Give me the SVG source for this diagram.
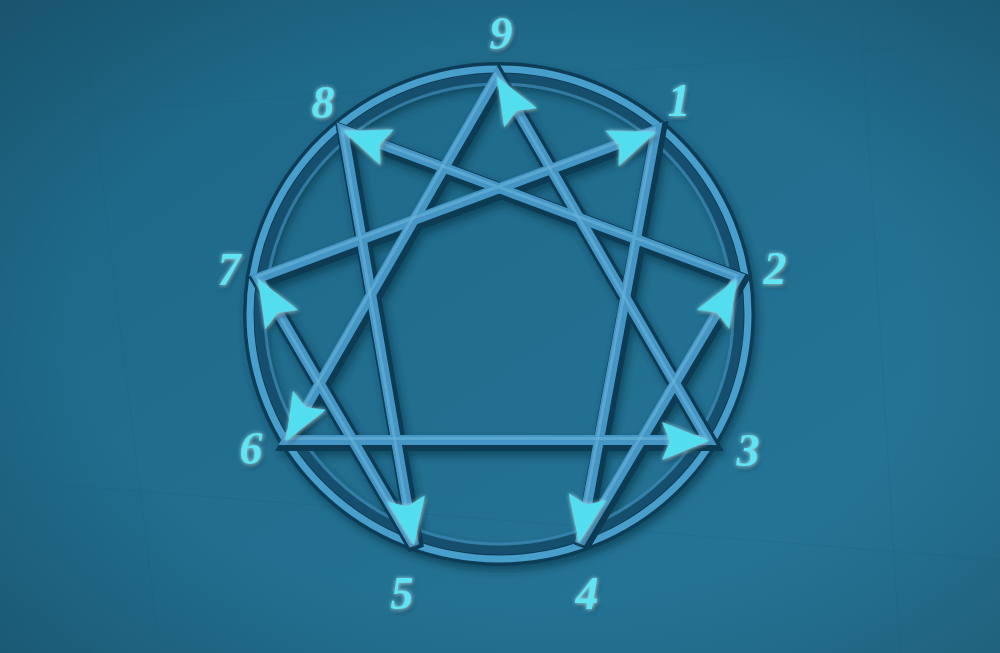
<svg xmlns="http://www.w3.org/2000/svg" xmlns:xlink="http://www.w3.org/1999/xlink" width="1000" height="653" viewBox="0 0 1000 653">
  <defs>
    <linearGradient id="bg" x1="0" y1="0" x2="1" y2="1">
      <stop offset="0" stop-color="#1d6685"/>
      <stop offset="0.5" stop-color="#216e8f"/>
      <stop offset="1" stop-color="#27789a"/>
    </linearGradient>
    <radialGradient id="vig" cx="0.5" cy="0.5" r="0.7">
      <stop offset="0.6" stop-color="#000" stop-opacity="0"/>
      <stop offset="1" stop-color="#000" stop-opacity="0.18"/>
    </radialGradient>
    <filter id="shadow" x="-10%" y="-10%" width="120%" height="120%">
      <feGaussianBlur in="SourceAlpha" stdDeviation="4"/>
      <feOffset dx="3" dy="5" result="b"/>
      <feFlood flood-color="#062a3a" flood-opacity="0.55"/>
      <feComposite in2="b" operator="in" result="s"/>
      <feMerge><feMergeNode in="s"/><feMergeNode in="SourceGraphic"/></feMerge>
    </filter>
    <filter id="glow" x="-30%" y="-30%" width="160%" height="160%">
      <feGaussianBlur in="SourceAlpha" stdDeviation="2.2" result="b"/>
      <feFlood flood-color="#c4f8ff" flood-opacity="0.75"/>
      <feComposite in2="b" operator="in" result="g"/>
      <feGaussianBlur in="SourceAlpha" stdDeviation="2" result="b2"/>
      <feOffset in="b2" dx="2" dy="3" result="o"/>
      <feFlood flood-color="#052838" flood-opacity="0.6"/>
      <feComposite in2="o" operator="in" result="d"/>
      <feMerge><feMergeNode in="d"/><feMergeNode in="g"/><feMergeNode in="SourceGraphic"/></feMerge>
    </filter>
    <path id="ah" d="M0,0 L-47,-19 L-39,0 L-47,19 Z"/>
    <style>
      .lnShadow { stroke: #0d3a52; stroke-width: 16; stroke-linecap: butt; fill: none; }
      .ln { stroke: #4596c4; stroke-width: 10; stroke-linecap: butt; fill: none; }
      .lnHi { stroke: #6cb8de; stroke-width: 3; fill: none; opacity: 0.55; }
      .arrow { fill: #52def0; }
      .num { font-family: "Liberation Serif", "DejaVu Serif", serif; font-style: italic; font-weight: bold; font-size: 46px; fill: #5ee4f4; text-anchor: middle; }
    </style>
  </defs>

  <rect x="0" y="0" width="1000" height="653" fill="url(#bg)"/>
  <rect x="0" y="0" width="1000" height="653" fill="url(#vig)"/>
  <g stroke="#185a78" stroke-width="1" opacity="0.2" fill="none">
    <path d="M0,120 L1000,40"/>
    <path d="M80,0 L160,653"/>
    <path d="M0,480 L1000,560"/>
    <path d="M860,0 L900,653"/>
  </g>

  <g id="figure" filter="url(#shadow)">
    <g id="ring">
      <ellipse cx="499" cy="314" rx="247" ry="243" fill="none" stroke="#0f3e56" stroke-width="18"/>
      <ellipse cx="499" cy="314" rx="249" ry="245" fill="none" stroke="#4a9fcc" stroke-width="7"/>
      <ellipse cx="499" cy="314" rx="240" ry="236" fill="none" stroke="#15506e" stroke-width="9"/>
      <ellipse cx="499" cy="314" rx="234" ry="230" fill="none" stroke="#3a88b2" stroke-width="3" opacity="0.7"/>
    </g>

    <g id="connectors">
      <g transform="translate(2,3)">
        <path class="lnShadow" d="M497,76 L708,440 L287,440 Z"/>
        <path class="lnShadow" d="M656,130 L580,543 L738,277 L343,130 L414,545 L258,278 Z"/>
      </g>
      <path class="ln" d="M497,76 L708,440 L287,440 Z"/>
      <path class="ln" d="M656,130 L580,543 L738,277 L343,130 L414,545 L258,278 Z"/>
      <path class="lnHi" d="M497,76 L708,440 L287,440 Z" transform="translate(-1.5,-1.5)"/>
      <path class="lnHi" d="M656,130 L580,543 L738,277 L343,130 L414,545 L258,278 Z" transform="translate(-1.5,-1.5)"/>
    </g>
  </g>

  <g id="arrows" filter="url(#glow)">
    <use xlink:href="#ah" class="arrow" transform="translate(497,77) rotate(-120.1)"/>
    <use xlink:href="#ah" class="arrow" transform="translate(656,132) rotate(-20.4)"/>
    <use xlink:href="#ah" class="arrow" transform="translate(737,279) rotate(-59.3)"/>
    <use xlink:href="#ah" class="arrow" transform="translate(709,441) rotate(0)"/>
    <use xlink:href="#ah" class="arrow" transform="translate(579,543) rotate(100.4)"/>
    <use xlink:href="#ah" class="arrow" transform="translate(414,545) rotate(80.3)"/>
    <use xlink:href="#ah" class="arrow" transform="translate(286,441) rotate(120)"/>
    <use xlink:href="#ah" class="arrow" transform="translate(258,279) rotate(-120.3)"/>
    <use xlink:href="#ah" class="arrow" transform="translate(343,131) rotate(-159.6)"/>
  </g>

  <g id="labels" filter="url(#glow)">
    <g id="n9"><text class="num" x="501" y="49">9</text></g>
    <g id="n1"><text class="num" x="679" y="116">1</text></g>
    <g id="n2"><text class="num" x="775" y="284">2</text></g>
    <g id="n3"><text class="num" x="748" y="466">3</text></g>
    <g id="n4"><text class="num" x="587" y="609">4</text></g>
    <g id="n5"><text class="num" x="402" y="609">5</text></g>
    <g id="n6"><text class="num" x="251" y="464">6</text></g>
    <g id="n7"><text class="num" x="229" y="285">7</text></g>
    <g id="n8"><text class="num" x="323" y="118">8</text></g>
  </g>
</svg>
